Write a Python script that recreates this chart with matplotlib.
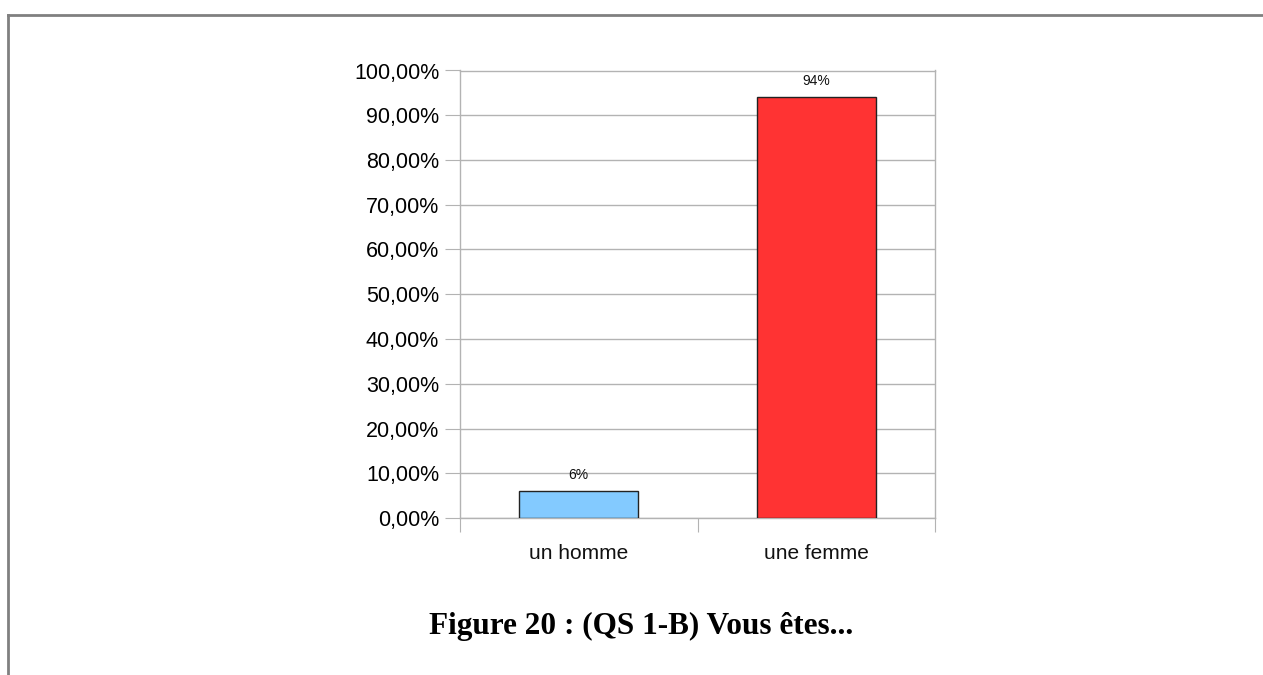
import matplotlib
matplotlib.use("Agg")
import matplotlib.pyplot as plt
from matplotlib.lines import Line2D

categories = ["un homme", "une femme"]
values = [6, 94]
value_labels = ["6%", "94%"]
bar_colors = ["#83caff", "#ff3333"]
y_ticks = list(range(0, 101, 10))
y_tick_labels = [f"{v},00%" for v in y_ticks]
title = "Figure 20 : (QS 1-B) Vous êtes..."

W, H = 1263, 675
fig = plt.figure(figsize=(W / 100, H / 100), dpi=100)
ax = fig.add_axes([460 / W, 1 - 518 / H, (935 - 460) / W, (518 - 70.5) / H])

grid_c = "#b3b3b3"
x = list(range(len(categories)))
ax.bar(x, values, width=0.5, color=bar_colors, edgecolor="#222222", linewidth=1, zorder=3)
for xi, v, lab in zip(x, values, value_labels):
    ax.text(xi, v + 2, lab, ha="center", va="bottom", fontsize=10,
            family="Liberation Sans", color="#111111")

ax.set_xlim(-0.5, 1.5)
ax.set_ylim(0, 100)
ax.set_yticks(y_ticks)
ax.set_yticklabels(y_tick_labels, family="Liberation Sans", fontsize=15.5)
ax.yaxis.grid(True, color=grid_c, linewidth=1, zorder=0)
ax.tick_params(axis="y", length=11, color=grid_c, pad=4)

# category boundary ticks on x axis
ax.set_xticks([-0.5, 0.5, 1.5])
ax.set_xticklabels([])
ax.tick_params(axis="x", length=10, color=grid_c)
for xi, c in zip(x, categories):
    ax.text(xi, -5.8, c, ha="center", va="top", fontsize=15,
            family="Liberation Sans", color="#111111")

for s in ax.spines.values():
    s.set_color(grid_c)
    s.set_linewidth(1)

# page frame lines
fig.add_artist(Line2D([8 / W, 1], [1 - 14.5 / H, 1 - 14.5 / H], color="#808080", linewidth=2))
fig.add_artist(Line2D([8 / W, 8 / W], [0, 1 - 14.5 / H], color="#808080", linewidth=2))

fig.text(641 / W, 1 - 626 / H, title, ha="center", va="center", fontsize=22.5,
         family="Liberation Serif", weight="bold")

fig.savefig("out.png", dpi=100)
